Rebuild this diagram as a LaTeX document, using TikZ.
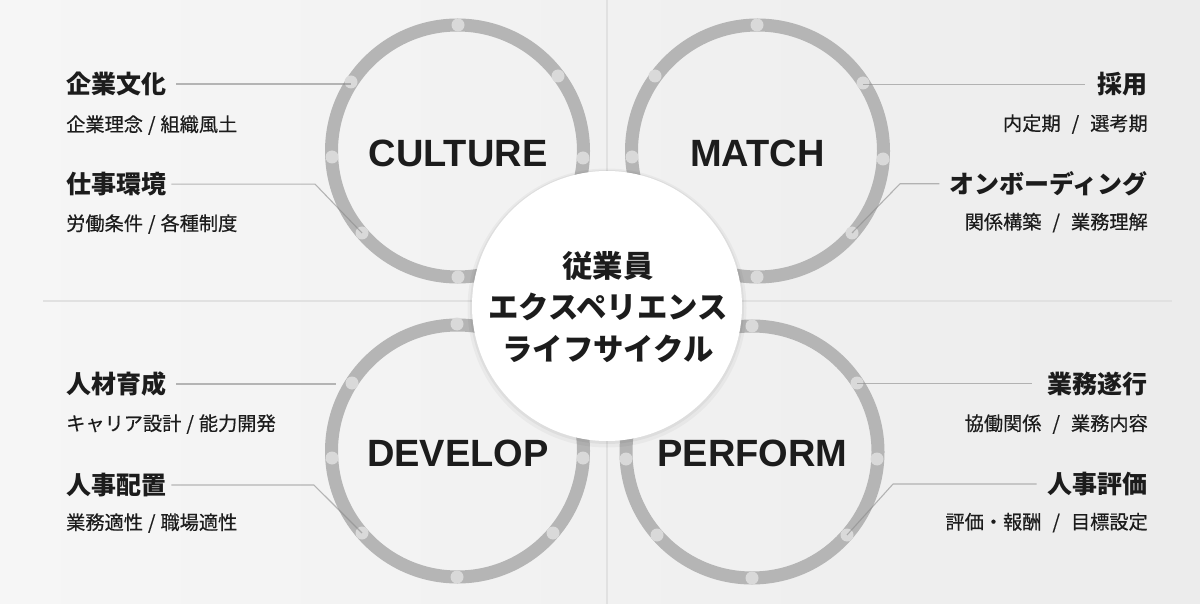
\documentclass[tikz,border=0pt]{standalone}
\usepackage{fontspec}
\newfontfamily\jpfont{Noto Sans CJK JP}
\newfontfamily\jpmed{Noto Sans CJK JP}[FakeBold=0.4]
\newfontfamily\latfont{Liberation Sans}
\definecolor{bgl}{HTML}{F6F6F6}
\definecolor{bgr}{HTML}{ECECEC}
\definecolor{divc}{HTML}{E1E1E1}
\definecolor{ringc}{HTML}{B5B5B5}
\definecolor{dotc}{HTML}{D9D9D9}
\definecolor{txt}{HTML}{1C1C1C}
\definecolor{connc}{HTML}{8A8A8A}
\begin{document}
\begin{tikzpicture}[x=1pt,y=-1pt,
  ring/.style={draw=ringc,line width=13pt},
  dotm/.style={fill=dotc},
  conn/.style={draw=connc,draw opacity=0.6,line width=1.1pt},
  ttl/.style={inner sep=0pt,text=txt,font=\jpfont\bfseries\fontsize{25}{29}\selectfont},
  sub/.style={inner sep=0pt,text=txt,font=\jpmed\fontsize{19.2}{23}\selectfont},
  big/.style={inner sep=0pt,text=txt,font=\latfont\bfseries\fontsize{38}{44}\selectfont},
  ctr/.style={inner sep=0pt,text=txt,font=\jpfont\bfseries\fontsize{30.4}{35}\selectfont}]
% background
\shade[left color=bgl,right color=bgr] (0,0) rectangle (1200,604);
\useasboundingbox (0,0) rectangle (1200,604);
\draw[divc,line width=2pt] (607,0) -- (607,604);
\draw[divc,line width=2.5pt] (43,301) -- (1172,301);
% rings
\coordinate (cC) at (457.5,151);
\coordinate (cM) at (757.5,151);
\coordinate (cD) at (457.5,451);
\coordinate (cP) at (752,452);
\draw[ring] (cC) circle (126);
\draw[ring] (cM) circle (126);
\draw[ring] (cD) circle (126);
\draw[ring] (cP) circle (126);
% dots CULTURE
\coordinate (c-t) at (458,25);
\coordinate (c-ul) at (351,82);
\coordinate (c-ur) at (558,76);
\coordinate (c-l) at (332,157);
\coordinate (c-r) at (583,158);
\coordinate (c-ll) at (362,233);
\coordinate (c-lr) at (553,233);
\coordinate (c-b) at (458,277);
\foreach \p in {c-t,c-ul,c-ur,c-l,c-r,c-ll,c-lr,c-b} \fill[dotm] (\p) circle (6.5);
% dots MATCH
\coordinate (m-t) at (757,25);
\coordinate (m-ul) at (655,76);
\coordinate (m-ur) at (863,83);
\coordinate (m-l) at (632,157);
\coordinate (m-r) at (883,159);
\coordinate (m-ll) at (662,233);
\coordinate (m-lr) at (852,233);
\coordinate (m-b) at (757,277);
\foreach \p in {m-t,m-ul,m-ur,m-l,m-r,m-ll,m-lr,m-b} \fill[dotm] (\p) circle (6.5);
% dots DEVELOP
\coordinate (d-t) at (457,324);
\coordinate (d-ul) at (352,383);
\coordinate (d-ur) at (558,378);
\coordinate (d-l) at (332,458);
\coordinate (d-r) at (583,458);
\coordinate (d-ll) at (362,533);
\coordinate (d-lr) at (553,533);
\coordinate (d-b) at (457,577);
\foreach \p in {d-t,d-ul,d-ur,d-l,d-r,d-ll,d-lr,d-b} \fill[dotm] (\p) circle (6.5);
% dots PERFORM
\coordinate (p-t) at (752,326);
\coordinate (p-ul) at (650,378);
\coordinate (p-ur) at (857,383);
\coordinate (p-l) at (626,459);
\coordinate (p-r) at (877,459);
\coordinate (p-ll) at (657,535);
\coordinate (p-lr) at (847,535);
\coordinate (p-b) at (752,578);
\foreach \p in {p-t,p-ul,p-ur,p-l,p-r,p-ll,p-lr,p-b} \fill[dotm] (\p) circle (6.5);
% ring titles
\node[big,anchor=base] (nC) at (458,166.5) {CULTURE};
\node[big,anchor=base] (nM) at (757.5,166.5) {MATCH};
\node[big,anchor=base] (nD) at (458,466.5) {DEVELOP};
\node[big,anchor=base] (nP) at (752.5,466.5) {PERFORM};
% hub
\fill[black,opacity=.035] (607,308) circle (139.5);
\fill[black,opacity=.045] (607,307) circle (137);
\node[circle,fill=white,minimum size=270pt,inner sep=0pt] (hub) at (607,306) {};
\node[ctr,anchor=base] (h1) at (608,277.5) {従業員};
\node[ctr,anchor=base] (h2) at (608,319) {エクスペリエンス};
\node[ctr,anchor=base] (h3) at (608,360.5) {ライフサイクル};
% left labels
\node[ttl,anchor=base west] (t1) at (66,93.5) {企業文化};
\node[sub,anchor=base west] (s1) at (66,131.5) {企業理念\hspace{5pt}/\hspace{5pt}組織風土};
\node[ttl,anchor=base west] (t2) at (66,193.5) {仕事環境};
\node[sub,anchor=base west] (s2) at (66,230.5) {労働条件\hspace{5pt}/\hspace{5pt}各種制度};
\node[ttl,anchor=base west] (t5) at (66,393.5) {人材育成};
\node[sub,anchor=base west] (s5) at (66,430.5) {キャリア設計\hspace{5pt}/\hspace{5pt}能力開発};
\node[ttl,anchor=base west] (t6) at (66,494.5) {人事配置};
\node[sub,anchor=base west] (s6) at (66,529.5) {業務適性\hspace{5pt}/\hspace{5pt}職場適性};
% right labels
\node[ttl,anchor=base east] (t3) at (1148,93.5) {採用};
\node[sub,anchor=base east] (s3) at (1148,130.5) {内定期\hspace{11pt}/\hspace{11pt}選考期};
\node[ttl,anchor=base east] (t4) at (1148,193.5) {オンボーディング};
\node[sub,anchor=base east] (s4) at (1148,229) {関係構築\hspace{11pt}/\hspace{11pt}業務理解};
\node[ttl,anchor=base east] (t7) at (1148,393) {業務遂行};
\node[sub,anchor=base east] (s7) at (1148,430.5) {協働関係\hspace{11pt}/\hspace{11pt}業務内容};
\node[ttl,anchor=base east] (t8) at (1148,493.5) {人事評価};
\node[sub,anchor=base east] (s8) at (1148,529) {評価・報酬\hspace{11pt}/\hspace{11pt}目標設定};
% bend coordinates
\coordinate (b2) at (315,0);
\coordinate (e5) at (336,0);
\coordinate (b6) at (314,0);
\coordinate (b4) at (900,0);
\coordinate (b8) at (893,0);
% connectors
\draw[conn] ([xshift=10pt]t1.east) -- (t1.east -| c-ul);
\draw[conn] ([xshift=5pt]t2.east) -- (t2.east -| b2) -- (c-ll);
\draw[conn] ([xshift=10pt]t5.east) -- (t5.east -| e5);
\draw[conn] ([xshift=5pt]t6.east) -- (t6.east -| b6) -- (d-ll);
\draw[conn] (t3.west -| m-ur) -- ([xshift=-13pt]t3.west);
\draw[conn] (m-lr) -- (t4.west -| b4) -- ([xshift=-10pt]t4.west);
\draw[conn] (t7.west -| p-ur) -- ([xshift=-16pt]t7.west);
\draw[conn] (p-lr) -- (t8.west -| b8) -- ([xshift=-11pt]t8.west);
\end{tikzpicture}
\end{document}
